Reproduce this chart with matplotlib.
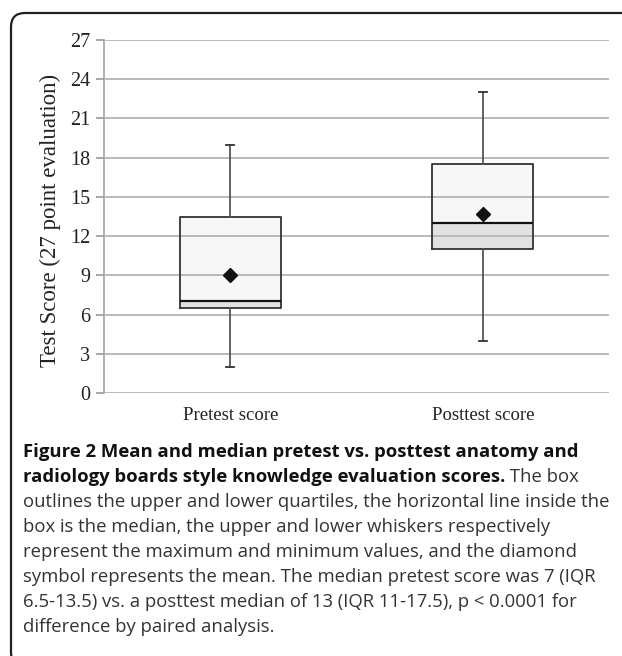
import matplotlib
matplotlib.use("Agg")
import matplotlib.pyplot as plt
from matplotlib.patches import FancyBboxPatch

# ---- data ----
categories = ["Pretest score", "Posttest score"]
mins = [2, 4]
q1s = [6.5, 11]
medians = [7, 13]
q3s = [13.5, 17.5]
maxs = [19, 23]
means = [9.05, 13.7]
yticks = [0, 3, 6, 9, 12, 15, 18, 21, 24, 27]
ylabel = "Test Score (27 point evaluation)"

caption_lines = [
    ("Figure 2 Mean and median pretest vs. posttest anatomy and", ""),
    ("radiology boards style knowledge evaluation scores.", " The box"),
    ("", "outlines the upper and lower quartiles, the horizontal line inside the"),
    ("", "box is the median, the upper and lower whiskers respectively"),
    ("", "represent the maximum and minimum values, and the diamond"),
    ("", "symbol represents the mean. The median pretest score was 7 (IQR"),
    ("", "6.5-13.5) vs. a posttest median of 13 (IQR 11-17.5), p < 0.0001 for"),
    ("", "difference by paired analysis."),
]

W, H = 622, 656
fig = plt.figure(figsize=(W / 100, H / 100), dpi=100)
fig.patch.set_facecolor("white")

# rounded frame (display coords) - right and bottom edges fall outside the image
frame = FancyBboxPatch((11, -10), 700, 653, boxstyle="round,pad=0,rounding_size=14",
                       transform=None, fill=False, edgecolor="#222222", linewidth=1.6,
                       clip_on=False)
fig.add_artist(frame)

ax = fig.add_axes([104 / W, 1 - 393 / H, (609 - 104) / W, (393 - 40) / H])
positions = [0.5, 1.5]
bw = 0.4

# box fills (lower: Q1-median, upper: median-Q3)
ax.bar(positions, [m - q for m, q in zip(medians, q1s)], bottom=q1s, width=bw,
       color="#e0e1e3", edgecolor="none", zorder=1)
ax.bar(positions, [q - m for q, m in zip(q3s, medians)], bottom=medians, width=bw,
       color="#f7f7f7", edgecolor="none", zorder=1)

ax.set_ylim(0, 27)
ax.set_xlim(0, 2)
ax.set_yticks(yticks)
ax.yaxis.grid(True, color="#b4b4b4", linewidth=1.3, zorder=2)
ax.set_axisbelow(False)
for gl in ax.get_ygridlines():
    gl.set_zorder(2)

stats = []
for i in range(2):
    stats.append(dict(med=medians[i], q1=q1s[i], q3=q3s[i], whislo=mins[i],
                      whishi=maxs[i], mean=means[i], fliers=[], label=categories[i]))
ax.bxp(stats, positions=positions, widths=bw, showmeans=True, showfliers=False,
       capwidths=0.032,
       boxprops=dict(color="#333333", linewidth=1.3),
       whiskerprops=dict(color="#555555", linewidth=1.3),
       capprops=dict(color="#333333", linewidth=1.3),
       medianprops=dict(color="#111111", linewidth=1.6),
       meanprops=dict(marker="D", markerfacecolor="#111111", markeredgecolor="#111111",
                      markersize=7),
       manage_ticks=False, zorder=3)

ax.set_xticks(positions)
ax.set_xticklabels(categories, fontfamily="Liberation Serif", fontsize=13.5, color="#222222")
ax.tick_params(axis="x", length=0, pad=10)
ax.tick_params(axis="y", length=6, color="#999999", width=1.2, pad=4)
for lab in ax.get_yticklabels():
    lab.set_fontfamily("Liberation Serif")
    lab.set_fontsize(14.5)
    lab.set_color("#222222")
for s in ["top", "right", "bottom"]:
    ax.spines[s].set_visible(False)
ax.spines["left"].set_color("#aaaaaa")
ax.spines["left"].set_linewidth(1.3)
ax.set_ylabel(ylabel, fontfamily="Liberation Serif", fontsize=16.5, color="#222222")
ax.yaxis.set_label_coords(-(104 - 61) / (609 - 104), 0.49)

# caption
fig.canvas.draw()
renderer = fig.canvas.get_renderer()
cap_fs = 13.3
cap_family = "Open Sans"
y0 = 452
dy = 25
for i, (b, r) in enumerate(caption_lines):
    yy = 1 - (y0 + i * dy) / H
    x = 23
    if b:
        t = fig.text(x / W, yy, b, fontfamily=cap_family, fontweight="bold",
                     fontsize=cap_fs, color="#111111", va="center", ha="left")
        bb = t.get_window_extent(renderer)
        x = bb.x1
    if r:
        fig.text(x / W, yy, r, fontfamily=cap_family, fontsize=cap_fs,
                 color="#333333", va="center", ha="left")

fig.savefig("out.png", dpi=100)
